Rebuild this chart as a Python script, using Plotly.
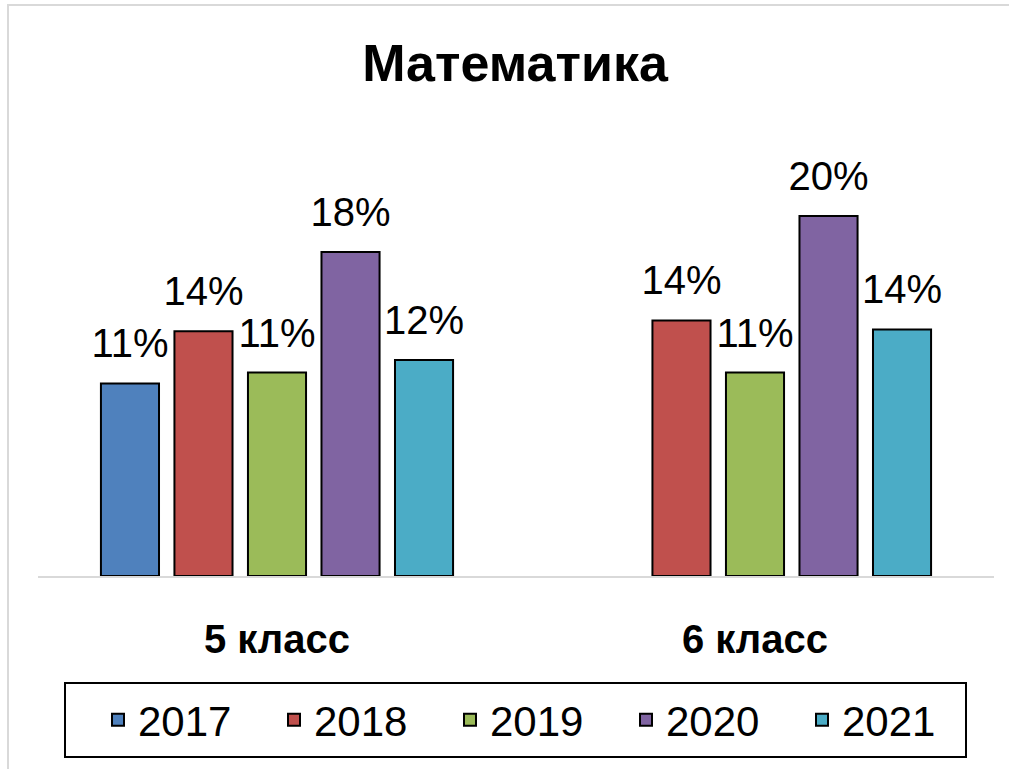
import plotly.graph_objects as go

categories = ["5 класс", "6 класс"]
years = ["2017", "2018", "2019", "2020", "2021"]
values = {
    "2017": [10.7, None],
    "2018": [13.6, 14.2],
    "2019": [11.3, 11.3],
    "2020": [18.0, 20.0],
    "2021": [12.0, 13.7],
}
colors = ["#4F81BD", "#C0504D", "#9BBB59", "#8064A2", "#4BACC6"]
title_text = "Математика"

W, H = 1009, 769
L, R, T, B = 38, 15, 130, 193
pw, ph = W - L - R, H - T - B

def px(x):
    return (x - L) / pw

def py(y):
    return (H - B - y) / ph

FONT = "Liberation Sans, Arial, sans-serif"
GAP = 0.231

fig = go.Figure()
for yr, col in zip(years, colors):
    vals = values[yr]
    fig.add_trace(go.Bar(
        name=yr, x=categories, y=vals, offsetgroup=yr,
        marker=dict(color=col, line=dict(color="black", width=2)),
        hoverinfo="skip",
    ))
for yr in years:
    vals = values[yr]
    fig.add_trace(go.Scatter(
        x=categories, y=vals, offsetgroup=yr, mode="markers+text",
        marker=dict(size=24, color="rgba(0,0,0,0)"),
        text=[None if v is None else f"{round(v):d}%" for v in vals],
        textposition="top center",
        textfont=dict(size=40, color="black", family=FONT),
        cliponaxis=False, showlegend=False, hoverinfo="skip",
    ))

fig.update_layout(
    width=W, height=H,
    margin=dict(l=L, r=R, t=T, b=B),
    paper_bgcolor="white", plot_bgcolor="white",
    barmode="group", bargap=GAP, bargroupgap=0.21,
    scattermode="group", scattergap=GAP,
    title=dict(text=f"<b>{title_text}</b>", x=515 / W, xanchor="center",
               y=1 - 63 / H, yanchor="middle",
               font=dict(size=52, color="black", family=FONT)),
    showlegend=True,
    legend=dict(orientation="h", x=px(98), xanchor="left",
                y=py(720), yanchor="middle",
                font=dict(size=42, color="black", family=FONT),
                bgcolor="rgba(0,0,0,0)", borderwidth=0,
                entrywidth=131, entrywidthmode="pixels",
                traceorder="normal"),
)
fig.update_xaxes(showline=True, linecolor="#d9d9d9", linewidth=2,
                 showgrid=False, ticks="outside", ticklen=27, tickcolor="rgba(0,0,0,0)",
                 tickfont=dict(size=40, color="black", family=FONT),
                 tickprefix="<b>", ticksuffix="</b>", range=[-0.5, 1.5])
fig.update_yaxes(visible=False, range=[0, ph / 18.0], showgrid=False, zeroline=False)

fig.add_shape(type="rect", xref="paper", yref="paper",
              x0=px(65), x1=px(966), y0=py(757), y1=py(683),
              line=dict(color="black", width=2), fillcolor="rgba(0,0,0,0)")
fig.add_shape(type="rect", xref="paper", yref="paper",
              x0=px(8), x1=px(1030), y0=py(790), y1=py(5),
              line=dict(color="#d9d9d9", width=2), fillcolor="rgba(0,0,0,0)")

fig.write_html("out.html", config={"displayModeBar": False},
               post_script="document.body.style.margin='0';")
